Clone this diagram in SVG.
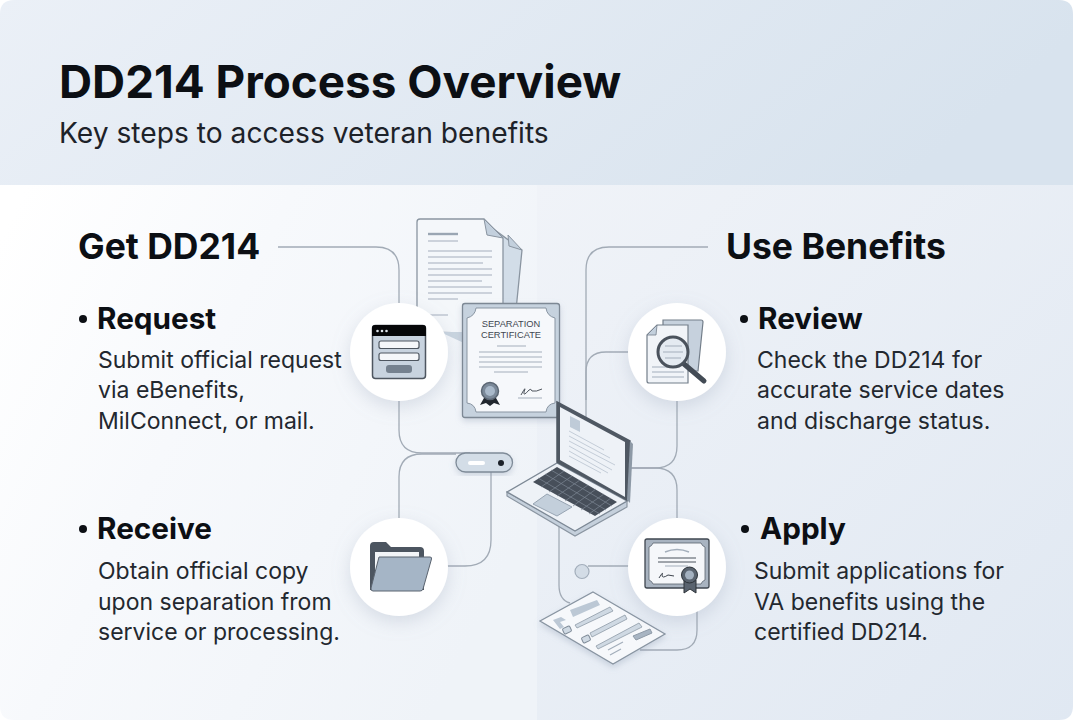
<svg xmlns="http://www.w3.org/2000/svg" width="1073" height="720" viewBox="0 0 1073 720">
<defs>
<linearGradient id="hd" x1="0" y1="0" x2="1" y2="0.2"><stop offset="0" stop-color="#ebf0f7"/><stop offset="1" stop-color="#d8e3ee"/></linearGradient>
<linearGradient id="lp" x1="0" y1="0.1" x2="1" y2="0.6"><stop offset="0" stop-color="#ffffff"/><stop offset="0.4" stop-color="#f7f9fc"/><stop offset="1" stop-color="#eff3f8"/></linearGradient>
<linearGradient id="rp" x1="0" y1="0" x2="1" y2="1"><stop offset="0" stop-color="#f0f3f8"/><stop offset="1" stop-color="#e0e8f2"/></linearGradient>
<filter id="sh" x="-40%" y="-40%" width="180%" height="180%"><feDropShadow dx="0" dy="6" stdDeviation="9" flood-color="#8c9bb0" flood-opacity="0.28"/></filter>
<filter id="ss" x="-20%" y="-20%" width="140%" height="140%"><feDropShadow dx="0" dy="3" stdDeviation="3" flood-color="#8c9bb0" flood-opacity="0.35"/></filter>
</defs>
<style>
text{font-family:"Inter","Liberation Sans",sans-serif;fill:#0c0f14}
.h1{font-size:45.8px;font-weight:700}
.sub{font-size:28.2px;font-weight:400;fill:#1d2229}
.h2{font-size:35.500px;font-weight:700}
.h3{font-size:29.700px;font-weight:700}
.b{font-size:23px;font-weight:400;fill:#23282f}
.c{fill:none;stroke:#a2abb6;stroke-width:1.3}
.disc{fill:#fff;filter:url(#sh)}
.ln{stroke:#a3aebb;stroke-width:1.2;fill:none}
</style>
<rect width="1073" height="720" fill="#ffffff"/>
<path d="M0 185H537V720H14Q0 720 0 706Z" fill="url(#lp)"/>
<path d="M537 185H1073V706Q1073 720 1059 720H537Z" fill="url(#rp)"/>
<path d="M14 0H1059Q1073 0 1073 14V185H0V14Q0 0 14 0Z" fill="url(#hd)"/>
<g id="connectors">
<path class="c" d="M278 247H376Q399 247 399 270V430Q399 453 422 453H470"/>
<path class="c" d="M456 454H422Q399 454 399 477V530"/>
<path class="c" d="M491 470V540Q491 566 465 566H440"/>
<path class="c" d="M708 247H609Q586 247 586 270V420"/>
<path class="c" d="M640 352H606Q586 352 586 372V400"/>
<path class="c" d="M677 390V446Q677 468 655 468H625"/>
<path class="c" d="M630 468H655Q677 468 677 490V530"/>
<path class="c" d="M559 525V585Q559 600 570 603"/>
<path class="c" d="M588 566H640"/>
<path class="c" d="M697 600V630Q697 650 677 650H640"/>
<circle cx="582" cy="571.500" r="7" fill="#d3dce6" stroke="#a3aebb" stroke-width="1.200"/>
</g>
<g id="title"><text class="h1" x="59" y="98">DD214 Process Overview</text><text class="sub" x="59" y="143">Key steps to access veteran benefits</text></g>
<g id="documents">
<path d="M488 225L522 250L516 310H490Z" fill="#d2dde8" stroke="#8a95a1" stroke-width="1.300"/>
<path d="M508 235L509 246L522 250Z" fill="#c3d0dd" stroke="#8a95a1"/>
<path d="M420 219H484L503 238V334L422 332Q417 332 417 328V222Q417 219 420 219Z" fill="#f4f7fa" stroke="#8a95a1" stroke-width="1.300"/>
<path d="M484 219L487 235L503 238Z" fill="#c3d0dd" stroke="#8a95a1"/>
<path d="M440 332L464 343V332Z" fill="#c9d4df"/>
<path d="M428 234H458" stroke="#9aa6b3" stroke-width="2.400"/>
<path class="ln" d="M428 241H458M428 251H492M428 257H492M428 263H483M428 269H492M428 275H492M428 281H482M428 287H492M428 293H492M428 299H458M428 315H448"/>
</g>
<g id="certificate">
<rect x="462.500" y="303.500" width="97" height="114" rx="2.500" fill="#c6d2de" stroke="#7d8894" stroke-width="1.300" filter="url(#ss)"/>
<path d="M476 308H546Q547 316 555 318V403Q547 404 546 412H476Q475 404 467 403V318Q475 316 476 308Z" fill="#f6f8fb" stroke="#8995a2"/>
<text x="511" y="327" text-anchor="middle" font-size="9.300" style="font-family:'Liberation Sans',sans-serif;fill:#3f4750">SEPARATION</text>
<text x="511" y="337.500" text-anchor="middle" font-size="9.300" style="font-family:'Liberation Sans',sans-serif;fill:#3f4750">CERTIFICATE</text>
<path class="ln" d="M497 346H526M479 352H542M479 357H542M479 362H542M479 367H542M494 372H528M518 398H542"/>
<path d="M484 398L480 405L486 403L490 406L494 403L500 405L496 398Z" fill="#20262d"/>
<circle cx="490" cy="391" r="8.500" fill="#7b8999" stroke="#5b6673" stroke-width="1.500"/><circle cx="490" cy="391" r="5" fill="#a9b9ca"/>
<path d="M521 395Q527 384 524 392Q523 397 529 390Q531 388 532 391Q536 392 542 389" fill="none" stroke="#3d444d" stroke-width="0.900"/>
</g>
<g id="laptop">
<path d="M507 492V496L575 536L627 507V501L575 530Z" fill="#c5d0dc" stroke="#8a95a1" stroke-width="1.200"/>
<path d="M507 492L557 463L627 501L575 531Z" fill="#eef2f7" stroke="#7d8996" stroke-width="1.300"/>
<path d="M533 482L557 467L617 502L595 516Z" fill="#474f5a"/>
<path d="M541 487L564 471M549 492L572 476M557 496L580 480M565 501L588 485M573 506L596 489M581 510L604 494M589 514L611 498M538 478L600 514M545 474L606 510M551 470L612 506" stroke="#7d8793" stroke-width="0.700"/>
<path d="M533 504L547 494L572 507L557 516Z" fill="#c3cfdb" stroke="#97a4b2"/>
<path d="M557 402L630 441L627 500L557 462Z" fill="#4f5863" stroke="#4f5863" stroke-width="1.500"/>
<path d="M630 441L633 444L630 503L627 500Z" fill="#8d99a6"/>
<path d="M560 407L625 442L625 497L560 460Z" fill="#eef2f7"/>
<path d="M570 416L580 421V432L570 427Z" fill="#bfcbd8"/>
<path d="M569 431L604 450M569 436L610 458M569 441L615 465M569 446L612 470M569 451L608 473M569 456L601 473" stroke="#c4cdd8" stroke-width="1"/>
</g>
<g id="pill"><rect x="456" y="453" width="56.500" height="19" rx="9.500" fill="#d3dde7" stroke="#7f8b98" stroke-width="1.300" filter="url(#ss)"/><rect x="468" y="461" width="17" height="4" rx="2" fill="#fff"/><circle cx="501" cy="463" r="3" fill="#1b2028"/></g>
<g id="form-paper">
<path d="M593 592L665 634L613 664L540 621Z" fill="#f6f8fb" stroke="#8995a2" stroke-width="1.300" filter="url(#ss)"/>
<path d="M570 610L597 600L600 605L573 617Z" fill="#bcc8d5"/>
<path d="M575 625L610 607L613 611L577 628ZM590 633L625 615L627 619L592 637ZM596 646L639 623L642 627L598 649Z" fill="#cfd9e3" stroke="#8e9aa7" stroke-width="0.800"/>
<path d="M633 636L650 629L652 633L636 640Z" fill="#a8b5c3" stroke="#8e9aa7"/>
<path d="M553 620L561 617L566 620L560 622L564 627L560 629Z" fill="#bcc8d5"/>
<rect x="563" y="627" width="8" height="6" rx="1.500" fill="#cfd9e3" stroke="#7f8b98" transform="rotate(-25 567 630)"/>
<rect x="582" y="636" width="8" height="6" rx="1.500" fill="#cfd9e3" stroke="#7f8b98" transform="rotate(-25 586 639)"/>
<path class="ln" d="M608 650L623 642M610 655L621 649"/>
</g>
<g id="node-request"><circle class="disc" cx="399" cy="352" r="49"/>
<rect x="372.500" y="325.500" width="53" height="53" rx="3" fill="#c8d3df" stroke="#4e5660" stroke-width="1.500"/>
<path d="M372 336V328Q372 325 375 325H423Q426 325 426 328V336Z" fill="#060709"/>
<circle cx="377.500" cy="331" r="1.300" fill="#dfe5ec"/><circle cx="382" cy="331" r="1.300" fill="#dfe5ec"/><circle cx="386.500" cy="331" r="1.300" fill="#dfe5ec"/>
<rect x="379" y="341" width="40" height="7.500" rx="2" fill="#f5f7fa" stroke="#4e5660" stroke-width="1.200"/>
<rect x="379" y="353" width="40" height="7.500" rx="2" fill="#f5f7fa" stroke="#4e5660" stroke-width="1.200"/>
<rect x="386" y="365" width="26" height="8" rx="3" fill="#75818f"/>
</g>
<g id="node-receive"><circle class="disc" cx="399" cy="567" r="49"/>
<path d="M370 590V546Q370 542 374 542H386L391 547H420Q424 547 424 551V590Z" fill="#4c5560"/>
<rect x="375" y="552" width="44" height="20" fill="#f2f5f8"/>
<path d="M379 557H430Q432 557 431.500 559L423 589Q422.500 591 420 591H373Q370.500 591 371 588Z" fill="#a5b5c6" stroke="#5b6470"/>
</g>
<g id="node-review"><circle class="disc" cx="677" cy="352" r="49"/>
<path d="M663 320H701Q703 320 703 322L698 371H663Z" fill="#c6d1dd" stroke="#737e8a" stroke-width="1.200"/>
<path d="M657 325H688V383H649Q647 383 647 381V335Z" fill="#f1f4f8" stroke="#737e8a" stroke-width="1.200"/>
<path d="M657 325L656 335H647Z" fill="#c3d0dd" stroke="#737e8a" stroke-width="0.800"/>
<path class="ln" d="M652 372H684M652 377H684M652 367H670"/>
<path d="M684 364L704 381" stroke="#434b55" stroke-width="5" stroke-linecap="round"/>
<circle cx="673" cy="352" r="15" fill="#e4eaf1" stroke="#4a525c" stroke-width="3"/>
<path class="ln" d="M665 346H682M663 352H683M665 358H681"/>
</g>
<g id="node-apply"><circle class="disc" cx="677" cy="567" r="49"/>
<rect x="645" y="539" width="64" height="49" rx="2" fill="#a8b3c0" stroke="#3f4750" stroke-width="1.300"/>
<path d="M653 543H701Q702 546 705 547V580Q702 581 701 584H653Q652 581 649 580V547Q652 546 653 543Z" fill="#f5f7fa" stroke="#59626d" stroke-width="0.800"/>
<path d="M665 552Q677 547 689 552" fill="none" stroke="#a3aebb" stroke-width="1.500"/>
<path d="M658 558H696M658 562H696" stroke="#4a525c" stroke-width="1"/><path d="M665 566H688" stroke="#a3aebb"/>
<path d="M659 578Q664 570 662 575Q662 579 668 575L674 576" fill="none" stroke="#3d444d"/>
<path d="M684 580V593L690 589L696 593V580Z" fill="#59636f" stroke="#2c3238"/>
<circle cx="689.500" cy="575" r="8" fill="#59636f" stroke="#2c3238"/><circle cx="689.500" cy="575" r="4.500" fill="#a3b1c0"/>
</g>
<g id="section-get">
<text class="h2" x="78" y="259">Get DD214</text>
<circle cx="83" cy="319" r="4" fill="#0c0f14"/>
<text class="h3" x="97" y="329">Request</text>
<text class="b" x="98" y="368">Submit official request</text>
<text class="b" x="98" y="398">via eBenefits,</text>
<text class="b" x="98" y="429">MilConnect, or mail.</text>
<circle cx="83" cy="529" r="4" fill="#0c0f14"/>
<text class="h3" x="97" y="539">Receive</text>
<text class="b" x="98" y="579">Obtain official copy</text>
<text class="b" x="98" y="610">upon separation from</text>
<text class="b" x="98" y="640">service or processing.</text>
</g>
<g id="section-use">
<text class="h2" x="726" y="259">Use Benefits</text>
<circle cx="744" cy="319" r="4" fill="#0c0f14"/>
<text class="h3" x="758" y="329">Review</text>
<text class="b" x="757" y="368">Check the DD214 for</text>
<text class="b" x="757" y="398">accurate service dates</text>
<text class="b" x="757" y="429">and discharge status.</text>
<circle cx="745" cy="529" r="4" fill="#0c0f14"/>
<text class="h3" x="760" y="539">Apply</text>
<text class="b" x="754" y="579">Submit applications for</text>
<text class="b" x="754" y="610">VA benefits using the</text>
<text class="b" x="754" y="640">certified DD214.</text>
</g>
</svg>
